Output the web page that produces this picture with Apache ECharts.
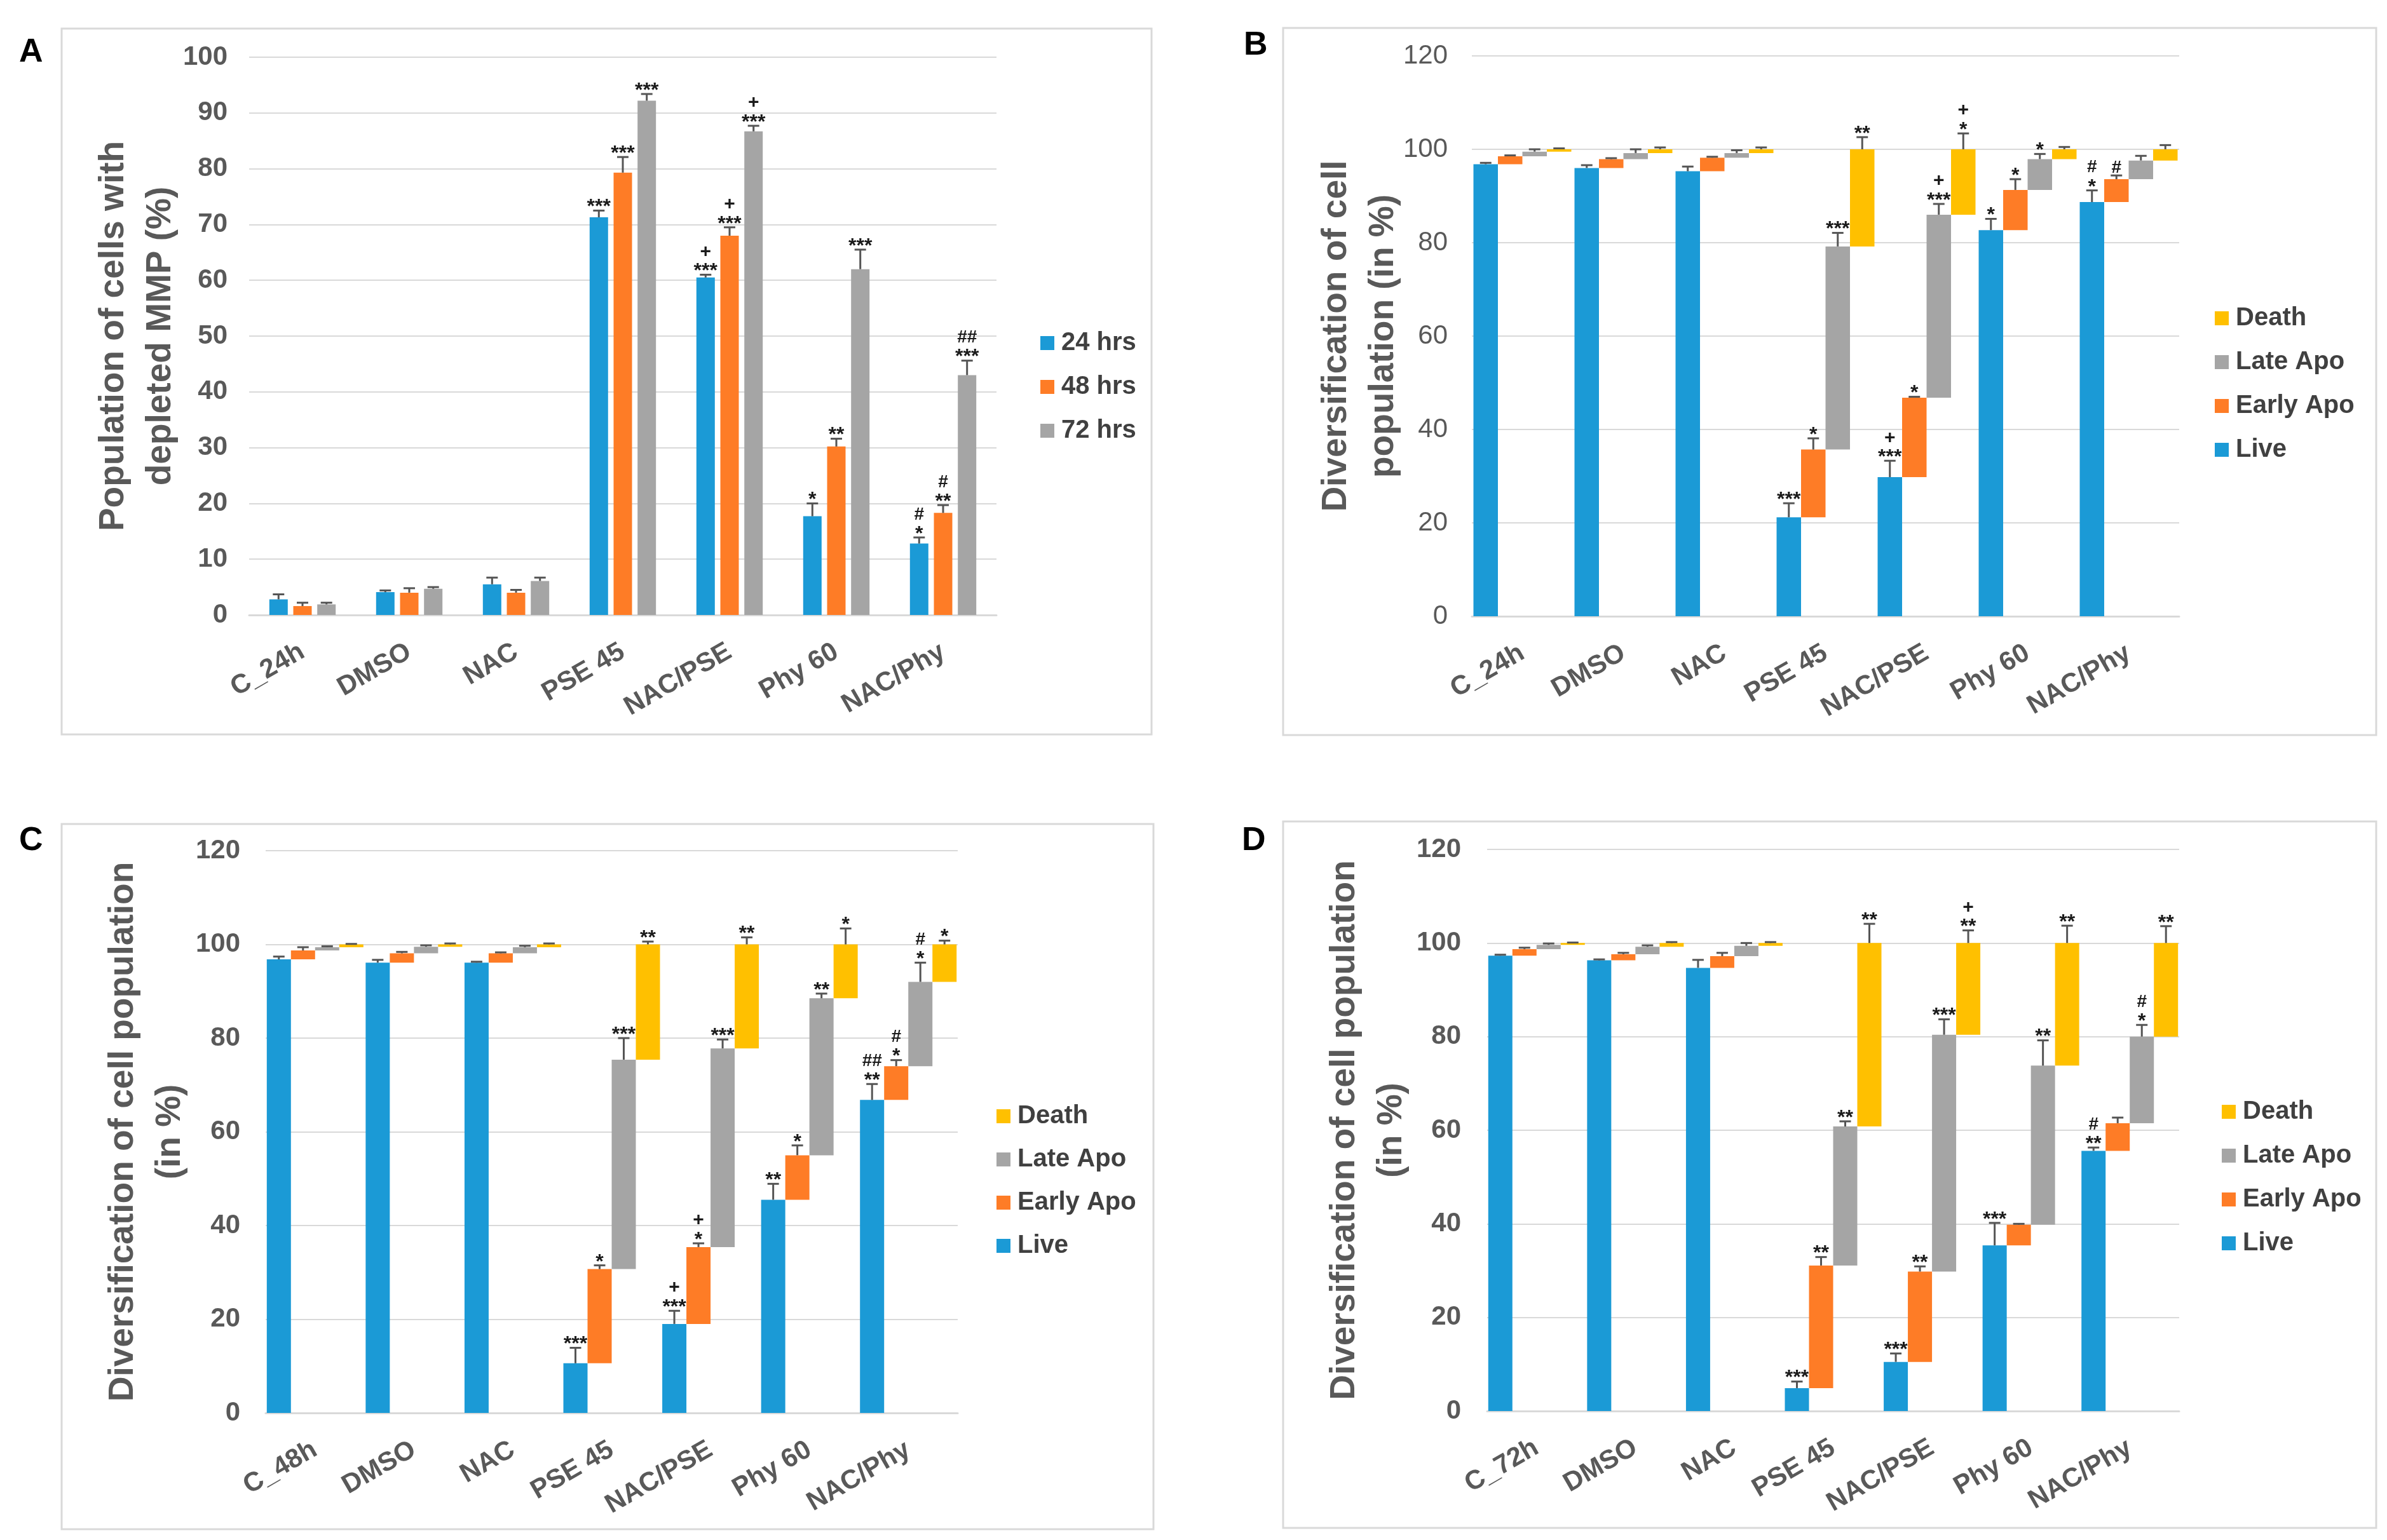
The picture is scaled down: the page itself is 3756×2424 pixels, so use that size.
<!DOCTYPE html>
<html><head><meta charset="utf-8">
<script src="https://cdn.jsdelivr.net/npm/echarts@6/dist/echarts.min.js"></script>
<style>html,body{margin:0;padding:0;background:#fff;}#c{width:3756px;height:2424px;}</style>
</head><body><div id="c"></div>
<script>
// ---------- DATA ----------
const catsA = ['C_24h','DMSO','NAC','PSE 45','NAC/PSE','Phy 60','NAC/Phy'];
const catsB = ['C_24h','DMSO','NAC','PSE 45','NAC/PSE','Phy 60','NAC/Phy'];
const catsC = ['C_48h','DMSO','NAC','PSE 45','NAC/PSE','Phy 60','NAC/Phy'];
const catsD = ['C_72h','DMSO','NAC','PSE 45','NAC/PSE','Phy 60','NAC/Phy'];
const ticksA = [0,10,20,30,40,50,60,70,80,90,100];
const ticksBCD = [0,20,40,60,80,100,120];

// Panel A: population with depleted MMP (%)
const mmp24 = [2.8, 4.1, 5.5, 71.3, 60.5, 17.7, 12.8];
const mmp24Err = [0.9, 0.3, 1.2, 1.2, 0.5, 2.3, 1.1];
const mmp24Sig = ['', '', '', '***', '+\n***', '*', '#\n*'];
const mmp48 = [1.6, 4.0, 4.0, 79.3, 68.0, 30.2, 18.3];
const mmp48Err = [0.6, 0.8, 0.5, 2.8, 1.5, 1.4, 1.4];
const mmp48Sig = ['', '', '', '***', '+\n***', '**', '#\n**'];
const mmp72 = [1.9, 4.7, 6.1, 92.2, 86.7, 62.0, 43.0];
const mmp72Err = [0.3, 0.3, 0.6, 1.2, 1.0, 3.5, 2.6];
const mmp72Sig = ['', '', '', '***', '+\n***', '***', '##\n***'];

// Panel B (24 h)
const liveB = [96.8, 96.0, 95.3, 21.2, 29.8, 82.7, 88.7];
const liveBErr = [0.3, 0.6, 1.0, 3.0, 3.5, 2.4, 2.5];
const liveBSig = ['', '', '', '***', '+\n***', '*', '#\n*'];
const earlyB = [1.7, 1.9, 2.9, 14.5, 17.0, 8.6, 4.9];
const earlyBErr = [0.2, 0.2, 0.2, 2.4, 0.2, 2.3, 0.8];
const earlyBSig = ['', '', '', '*', '*', '*', '#'];
const lateB = [1.0, 1.3, 1.0, 43.5, 39.2, 6.6, 4.0];
const lateBErr = [0.5, 0.8, 0.6, 2.9, 2.3, 1.1, 1.0];
const lateBSig = ['', '', '', '***', '+\n***', '*', ''];
const deathB = [0.5, 0.8, 0.8, 20.8, 14.0, 2.1, 2.4];
const deathBErr = [0.2, 0.4, 0.4, 2.6, 3.4, 0.5, 0.9];
const deathBSig = ['', '', '', '**', '+\n*', '', ''];

// Panel C (48 h)
const liveC = [96.8, 96.1, 96.1, 10.6, 19.0, 45.5, 66.8];
const liveCErr = [0.6, 0.6, 0.2, 3.3, 2.8, 3.4, 3.4];
const liveCSig = ['', '', '', '***', '+\n***', '**', '##\n**'];
const earlyC = [1.9, 2.0, 2.0, 20.1, 16.4, 9.5, 7.2];
const earlyCErr = [0.7, 0.3, 0.2, 0.8, 0.8, 2.1, 1.3];
const earlyCSig = ['', '', '', '*', '+\n*', '*', '#\n*'];
const lateC = [0.7, 1.4, 1.3, 44.7, 42.4, 33.5, 18.0];
const lateCErr = [0.2, 0.3, 0.3, 4.6, 1.9, 1.0, 4.1];
const lateCSig = ['', '', '', '***', '***', '**', '#\n*'];
const deathC = [0.6, 0.5, 0.6, 24.6, 22.2, 11.5, 8.0];
const deathCErr = [0.1, 0.2, 0.2, 0.6, 1.5, 3.4, 0.8];
const deathCSig = ['', '', '', '**', '**', '*', '*'];

// Panel D (72 h)
const liveD = [97.3, 96.3, 94.7, 4.9, 10.5, 35.4, 55.6];
const liveDErr = [0.2, 0.2, 1.7, 1.4, 1.8, 4.8, 0.7];
const liveDSig = ['', '', '', '***', '***', '***', '#\n**'];
const earlyD = [1.4, 1.3, 2.5, 26.2, 19.3, 4.4, 5.9];
const earlyDErr = [0.3, 0.3, 0.7, 1.8, 1.1, 0.2, 1.2];
const earlyDSig = ['', '', '', '**', '**', '', ''];
const lateD = [0.9, 1.6, 2.2, 29.7, 50.6, 34.0, 18.5];
const lateDErr = [0.3, 0.3, 0.6, 1.1, 3.3, 5.4, 2.5];
const lateDSig = ['', '', '', '**', '***', '**', '#\n*'];
const deathD = [0.4, 0.8, 0.6, 39.2, 19.6, 26.2, 20.0];
const deathDErr = [0.1, 0.2, 0.2, 4.1, 2.7, 3.7, 3.6];
const deathDSig = ['', '', '', '**', '+\n**', '**', '**'];

// ---------- STYLE ----------
const FONT = "'Liberation Sans', Arial, sans-serif";
const BLUE = '#1B9AD6', ORANGE = '#FE7C26', GRAY = '#A5A5A5', YELLOW = '#FFC000';
const TXT = '#595959', GRID = '#d9d9d9', ERR = '#555555', SIG = '#1a1a1a';

const grids = [
  {left:392, top:90, width:1176, height:878},
  {left:2316, top:88, width:1113, height:882},
  {left:418, top:1339, width:1089, height:885},
  {left:2340, top:1337, width:1089, height:884}
];
const barW = [29, 38.5, 38, 38];
const barGapF = [0.3, 0, 0, 0];

function xAx(gi, cats) {
  return {type:'category', gridIndex:gi, data:cats,
    axisLine:{lineStyle:{color:GRID, width:3}}, axisTick:{show:false},
    axisLabel:{interval:0, rotate:30, margin:55, fontSize:42, fontWeight:'bold', color:TXT, fontFamily:FONT}};
}
function yAx(gi, ticks, name, gap, lblMargin, lblWeight) {
  return {type:'value', gridIndex:gi, min:ticks[0], max:ticks[ticks.length-1], interval:ticks[1]-ticks[0],
    axisLine:{show:false}, axisTick:{show:false},
    splitLine:{lineStyle:{color:GRID, width:2}},
    axisLabel:{margin:lblMargin, fontSize:42, fontWeight:lblWeight, color:TXT, fontFamily:FONT},
    name:name, nameLocation:'middle', nameGap:gap, nameMoveOverlap:false,
    nameTextStyle:{fontSize:55, fontWeight:'bold', color:TXT, fontFamily:FONT, lineHeight:74}};
}

function sigTexts(s, x, capY) {
  const lines = s.split('\n').reverse();
  return lines.map((ln, j) => {
    const gc = capY - 12 - 24*j;
    const isStar = ln.indexOf('*') >= 0;
    const fs = isStar ? 32 : (ln.indexOf('+') >= 0 ? 30 : 28);
    return {type:'text', style:{text:ln, x:x, y: isStar ? gc + 7 : gc, align:'center', verticalAlign:'middle',
      fontSize:fs, fontWeight:'bold', fontFamily:FONT, fill:SIG}};
  });
}

function errSeries(gi, k, n, tops, errs, sigs) {
  const bw = barW[gi], g = barGapF[gi];
  return {
    type:'custom', name:'err', xAxisIndex:gi, yAxisIndex:gi, z:5, silent:true, clip:false,
    data: tops.map((t,i)=>[i, t, errs[i]]),
    renderItem(params, api) {
      const i = api.value(0), t = api.value(1), e = api.value(2);
      const total = n*bw + (n-1)*bw*g;
      const off = -total/2 + k*bw*(1+g) + bw/2;
      const p0 = api.coord([i, t]), p1 = api.coord([i, t+e]);
      const x = p0[0] + off;
      let ch = [
        {type:'line', shape:{x1:x, y1:p0[1], x2:x, y2:p1[1]}, style:{stroke:ERR, lineWidth:3}},
        {type:'line', shape:{x1:x-9, y1:p1[1], x2:x+9, y2:p1[1]}, style:{stroke:ERR, lineWidth:3}}
      ];
      const s = sigs[params.dataIndex];
      if (s) ch = ch.concat(sigTexts(s, x, p1[1]));
      return {type:'group', children:ch};
    }
  };
}

function addSum(a, b) { return a.map((v,i)=>+(v + b[i]).toFixed(2)); }

const series = [];
// Panel A: clustered bars
[[mmp24,'24 hrs',BLUE,mmp24Err,mmp24Sig],[mmp48,'48 hrs',ORANGE,mmp48Err,mmp48Sig],[mmp72,'72 hrs',GRAY,mmp72Err,mmp72Sig]]
.forEach(([d,nm,col,er,sg],k)=>{
  series.push({type:'bar', name:nm, xAxisIndex:0, yAxisIndex:0, data:d, barWidth:barW[0], barGap:'30%',
    itemStyle:{color:col}});
  series.push(errSeries(0, k, 3, d, er, sg));
});

// Panels B, C, D: floating (waterfall) bars
function stackedPanel(gi, live, early, late, death, errs, sigs) {
  const b1 = live, b2 = addSum(live, early), b3 = addSum(b2, late);
  const bw = barW[gi];
  const common = {xAxisIndex:gi, yAxisIndex:gi, barWidth:bw, barGap:'0%'};
  series.push(Object.assign({type:'bar', name:'Live', stack:'g'+gi+'a', data:live, itemStyle:{color:BLUE}}, common));
  series.push(Object.assign({type:'bar', name:'base', stack:'g'+gi+'b', data:b1, silent:true, itemStyle:{color:'rgba(0,0,0,0)'}}, common));
  series.push(Object.assign({type:'bar', name:'Early Apo', stack:'g'+gi+'b', data:early, itemStyle:{color:ORANGE}}, common));
  series.push(Object.assign({type:'bar', name:'base', stack:'g'+gi+'c', data:b2, silent:true, itemStyle:{color:'rgba(0,0,0,0)'}}, common));
  series.push(Object.assign({type:'bar', name:'Late Apo', stack:'g'+gi+'c', data:late, itemStyle:{color:GRAY}}, common));
  series.push(Object.assign({type:'bar', name:'base', stack:'g'+gi+'d', data:b3, silent:true, itemStyle:{color:'rgba(0,0,0,0)'}}, common));
  series.push(Object.assign({type:'bar', name:'Death', stack:'g'+gi+'d', data:death, itemStyle:{color:YELLOW}}, common));
  const tops = [live, b2, b3, addSum(b3, death)];
  tops.forEach((t,k)=>series.push(errSeries(gi, k, 4, t, errs[k], sigs[k])));
}
stackedPanel(1, liveB, earlyB, lateB, deathB, [liveBErr,earlyBErr,lateBErr,deathBErr], [liveBSig,earlyBSig,lateBSig,deathBSig]);
stackedPanel(2, liveC, earlyC, lateC, deathC, [liveCErr,earlyCErr,lateCErr,deathCErr], [liveCSig,earlyCSig,lateCSig,deathCSig]);
stackedPanel(3, liveD, earlyD, lateD, deathD, [liveDErr,earlyDErr,lateDErr,deathDErr], [liveDSig,earlyDSig,lateDSig,deathDSig]);

function legend(left, top, gap, names) {
  return {orient:'vertical', left:left, top:top, itemGap:gap, itemWidth:22, itemHeight:22, icon:'rect',
    selectedMode:false, data:names,
    textStyle:{fontSize:40, fontWeight:'bold', color:'#404040', fontFamily:FONT, lineHeight:40, padding:[0,0,0,6]}};
}
const stNames = ['Death','Late Apo','Early Apo','Live'];

const frames = [[97,45,1715,1111],[2019,44,1720,1113],[97,1297,1718,1110],[2019,1293,1720,1112]];
const letters = [['A',30,83],['B',1957,72],['C',30,1324],['D',1954,1324]];
const graphic = [];
frames.forEach(f=>graphic.push({type:'rect', z:-1, shape:{x:f[0],y:f[1],width:f[2],height:f[3]},
  style:{fill:'none', stroke:GRID, lineWidth:3}}));
letters.forEach(l=>graphic.push({type:'text', x:l[1], y:l[2], style:{text:l[0], fontSize:52, fontWeight:'bold',
  fontFamily:FONT, fill:'#000', verticalAlign:'middle'}}));

const option = {
  animation:false,
  backgroundColor:'#fff',
  grid: grids.map(g=>Object.assign({containLabel:false, outerBoundsMode:'none'}, g)),
  xAxis: [xAx(0,catsA), xAx(1,catsB), xAx(2,catsC), xAx(3,catsD)],
  yAxis: [
    yAx(0, ticksA, 'Population of cells with\ndepleted MMP (%)', 102, 34, 'bold'),
    yAx(1, ticksBCD, 'Diversification of cell\npopulation (in %)', 102, 38, 'normal'),
    yAx(2, ticksBCD, 'Diversification of cell population\n(in %)', 113, 40, 'bold'),
    yAx(3, ticksBCD, 'Diversification of cell population\n(in %)', 113, 41, 'bold')
  ],
  legend: [
    legend(1632, 515, 29, ['24 hrs','48 hrs','72 hrs']),
    legend(3480, 476, 29, stNames),
    legend(1563, 1732, 28, stNames),
    legend(3491, 1725, 29, stNames)
  ],
  graphic: graphic,
  series: series
};
const chart = echarts.init(document.getElementById('c'), null, {renderer:'canvas'});
chart.setOption(option);
</script></body></html>
